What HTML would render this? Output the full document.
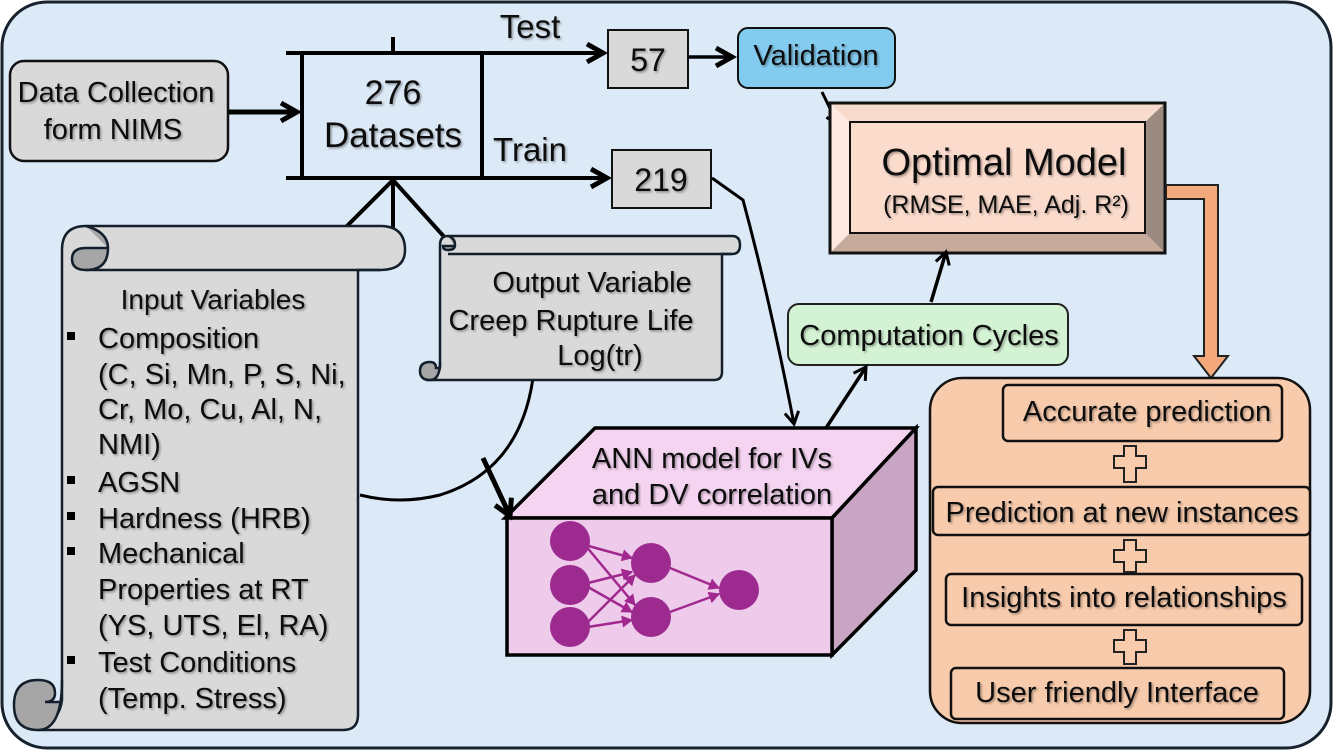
<!DOCTYPE html>
<html><head><meta charset="utf-8"><style>
html,body{margin:0;padding:0;background:#fff}
svg{display:block}
text{font-family:"Liberation Sans",Arial,sans-serif;fill:#111}
</style></head><body>
<svg width="1333" height="751" viewBox="0 0 1333 751" xmlns="http://www.w3.org/2000/svg">
<defs>
<marker id="ah" markerWidth="20" markerHeight="20" refX="15" refY="10" orient="auto" markerUnits="userSpaceOnUse"><path d="M3,3 L15,10 L3,17" fill="none" stroke="#000" stroke-width="3"/></marker>
<marker id="ahp" markerWidth="14" markerHeight="14" refX="11" refY="7" orient="auto" markerUnits="userSpaceOnUse"><path d="M1,1 L12,7 L1,13 Z" fill="#a0288e"/></marker>
<marker id="ahb" markerWidth="24" markerHeight="24" refX="19" refY="12" orient="auto" markerUnits="userSpaceOnUse"><path d="M3,3 L19,12 L3,21" fill="none" stroke="#000" stroke-width="5"/></marker>
<filter id="sh"><feDropShadow dx="1.5" dy="1.5" stdDeviation="1" flood-color="#000" flood-opacity="0.35"/></filter>
</defs>
<rect x="2" y="2" width="1329" height="746" rx="45" fill="#dce9f6" stroke="#16222e" stroke-width="3"/>

<!-- Data collection -->
<rect x="10" y="61" width="218" height="100" rx="14" fill="#d9d9d9" stroke="#111" stroke-width="2.5"/>
<g filter="url(#sh)" font-size="29" text-anchor="middle">
<text x="116" y="102">Data Collection</text>
<text x="113" y="139">form NIMS</text>
</g>
<line x1="229" y1="112" x2="297" y2="112" stroke="#000" stroke-width="5" marker-end="url(#ahb)"/>

<!-- Datasets -->
<g stroke="#000" stroke-width="4" fill="none">
<line x1="302" y1="53" x2="302" y2="178"/>
<line x1="482" y1="53" x2="482" y2="178"/>
<line x1="286" y1="53" x2="603" y2="53" marker-end="url(#ahb)"/>
<line x1="286" y1="178" x2="607" y2="178" marker-end="url(#ahb)"/>
<line x1="393" y1="37" x2="393" y2="53"/>
<line x1="393" y1="180" x2="345" y2="228"/>
<line x1="393" y1="180" x2="393" y2="228"/>
<line x1="393" y1="180" x2="447" y2="240"/>
</g>
<g filter="url(#sh)" text-anchor="middle">
<text x="393" y="104" font-size="34">276</text>
<text x="393" y="147" font-size="35">Datasets</text>
<text x="530" y="38" font-size="33">Test</text>
<text x="530" y="161" font-size="33">Train</text>
</g>

<!-- 57, 219 -->
<rect x="608" y="30" width="80" height="58" fill="#d9d9d9" stroke="#111" stroke-width="2"/>
<text x="648" y="71" font-size="32" text-anchor="middle" filter="url(#sh)">57</text>
<rect x="612" y="150" width="99" height="58" fill="#d9d9d9" stroke="#111" stroke-width="2"/>
<text x="661" y="191" font-size="32" text-anchor="middle" filter="url(#sh)">219</text>
<line x1="689" y1="57" x2="732" y2="57" stroke="#000" stroke-width="3.5" marker-end="url(#ahb)"/>

<!-- Validation -->
<rect x="738" y="28" width="157" height="60" rx="10" fill="#83cbef" stroke="#111" stroke-width="2"/>
<text x="816" y="65" font-size="29" text-anchor="middle" filter="url(#sh)">Validation</text>
<line x1="822" y1="92" x2="838" y2="125" stroke="#000" stroke-width="3" marker-end="url(#ah)"/>

<!-- Optimal model -->
<polygon points="830,103 1165,103 1165,253 830,253" fill="#fbdfcf" stroke="#111" stroke-width="3"/>
<polygon points="830,103 850,122 850,233 830,253" fill="#fde9df"/>
<polygon points="1165,103 1145,122 1145,233 1165,253" fill="#9a8a82"/>
<polygon points="830,253 850,233 1145,233 1165,253" fill="#c6aa9c"/>
<polygon points="830,103 850,122 1145,122 1165,103" fill="#f7dccd"/>
<rect x="850" y="122" width="295" height="111" fill="#fbdbcc" stroke="#111" stroke-width="2"/>
<polygon points="830,103 1165,103 1165,253 830,253" fill="none" stroke="#111" stroke-width="3"/>
<g filter="url(#sh)" text-anchor="middle">
<text x="1004" y="175" font-size="38">Optimal Model</text>
<text x="1006" y="213" font-size="25">(RMSE, MAE, Adj. R²)</text>
</g>

<!-- orange arrow -->
<polygon points="1166,185 1218,185 1218,356 1228,356 1211,378 1194,356 1204,356 1204,199 1166,199" fill="#f4a97c" stroke="#222" stroke-width="2"/>

<!-- right panel -->
<rect x="930" y="378" width="380" height="345" rx="32" fill="#f8cbad" stroke="#111" stroke-width="2.5"/>
<g fill="#f8cbad" stroke="#111" stroke-width="2.5">
<rect x="1003" y="385" width="279" height="56" rx="5"/>
<rect x="933" y="487" width="377" height="48" rx="5"/>
<rect x="946" y="574" width="356" height="51" rx="5"/>
<rect x="951" y="668" width="333" height="51" rx="5"/>
</g>
<g fill="#f8cbad" stroke="#222" stroke-width="2">
<path d="M1124,446 h12 v10 h10 v12 h-10 v14 h-12 v-14 h-10 v-12 h10z"/>
<path d="M1124,540 h12 v10 h10 v12 h-10 v10 h-12 v-10 h-10 v-12 h10z"/>
<path d="M1124,630 h12 v10 h10 v12 h-10 v12 h-12 v-12 h-10 v-12 h10z"/>
</g>
<g filter="url(#sh)" text-anchor="middle" font-size="29">
<text x="1147" y="421">Accurate prediction</text>
<text x="1122" y="522">Prediction at new instances</text>
<text x="1124" y="607">Insights into relationships</text>
<text x="1117" y="702">User friendly Interface</text>
</g>

<!-- Computation cycles -->
<rect x="788" y="304" width="280" height="61" rx="11" fill="#d4f3d4" stroke="#222" stroke-width="2"/>
<text x="929" y="345" font-size="29" text-anchor="middle" filter="url(#sh)">Computation Cycles</text>
<line x1="931" y1="302" x2="946" y2="252" stroke="#000" stroke-width="3.5" marker-end="url(#ah)"/>
<line x1="826" y1="428" x2="866" y2="367" stroke="#000" stroke-width="3.5" marker-end="url(#ah)"/>

<!-- 219 to ANN -->
<path d="M712,178 L743,200 Q770,300 794,424" fill="none" stroke="#000" stroke-width="3" marker-end="url(#ah)"/>

<!-- ANN box -->
<polygon points="505,518 595,428 916,428 832,518" fill="#f5d4f1" stroke="#000" stroke-width="3.5"/>
<polygon points="832,518 916,428 916,570 832,655" fill="#c8a5c3" stroke="#000" stroke-width="3.5"/>
<rect x="507" y="518" width="325" height="137" fill="#efcbeb" stroke="#000" stroke-width="3.5"/>
<g filter="url(#sh)" text-anchor="middle" font-size="29">
<text x="712" y="468">ANN model for IVs</text>
<text x="712" y="504">and DV correlation</text>
</g>
<g stroke="#a0288e" stroke-width="2.5" marker-end="url(#ahp)" fill="none">
<line x1="585" y1="545" x2="632" y2="558"/>
<line x1="585" y1="545" x2="635" y2="605"/>
<line x1="588" y1="583" x2="632" y2="572"/>
<line x1="588" y1="587" x2="632" y2="612"/>
<line x1="585" y1="625" x2="635" y2="575"/>
<line x1="588" y1="627" x2="632" y2="620"/>
<line x1="670" y1="568" x2="719" y2="588"/>
<line x1="670" y1="612" x2="719" y2="594"/>
</g>
<g fill="#9d2a8e">
<circle cx="570" cy="541" r="20"/>
<circle cx="570" cy="585" r="20"/>
<circle cx="570" cy="627" r="20"/>
<circle cx="651" cy="563" r="20"/>
<circle cx="651" cy="617" r="20"/>
<circle cx="739" cy="590" r="20"/>
</g>

<!-- curve from output scroll -->
<path d="M533,378 Q520,470 440,495 Q400,505 360,495" fill="none" stroke="#000" stroke-width="3"/>
<line x1="483" y1="458" x2="510" y2="516" stroke="#000" stroke-width="5" marker-end="url(#ahb)"/>

<!-- Input scroll -->
<g stroke="#13202c" stroke-width="2.5">
<path d="M62,250 Q62,226 86,226 L380,226 Q405,226 405,250 Q405,270 380,270 L358,270 L358,715 Q358,730 343,730 L38,730 Q60,720 62,700 Z" fill="#d9d9d9"/>
<path d="M86,226 Q108,232 108,248 Q108,270 86,270 Q72,270 72,259 Q72,248 86,248 L108,248" fill="#a6a6a6"/>
<path d="M62,680 Q62,730 38,730 Q14,730 14,705 Q14,680 38,680 Q55,680 55,693 Q55,702 45,702 L62,702" fill="#a6a6a6"/>
<line x1="86" y1="270" x2="380" y2="270" fill="none"/>
</g>
<g filter="url(#sh)" font-size="29">
<text x="213" y="309" text-anchor="middle" font-size="28">Input Variables</text>
<text x="98" y="348">Composition</text>
<text x="98" y="384">(C, Si, Mn, P, S, Ni,</text>
<text x="98" y="419">Cr, Mo, Cu, Al, N,</text>
<text x="98" y="454">NMI)</text>
<text x="98" y="492">AGSN</text>
<text x="98" y="528">Hardness (HRB)</text>
<text x="98" y="563">Mechanical</text>
<text x="98" y="599">Properties at RT</text>
<text x="98" y="635">(YS, UTS, El, RA)</text>
<text x="98" y="672">Test Conditions</text>
<text x="98" y="708">(Temp. Stress)</text>
</g>
<g fill="#000">
<rect x="67" y="332" width="8" height="8"/>
<rect x="67" y="476" width="8" height="8"/>
<rect x="67" y="512" width="8" height="8"/>
<rect x="67" y="547" width="8" height="8"/>
<rect x="67" y="656" width="8" height="8"/>
</g>

<!-- Output scroll -->
<g stroke="#13202c" stroke-width="2.5">
<path d="M440,245 Q440,236 448,236 L732,236 Q740,236 740,245 Q740,254 732,254 L722,254 L722,372 Q722,380 714,380 L430,380 Q438,375 440,368 Z" fill="#d9d9d9"/>
<path d="M448,236 Q455,238 455,245 Q455,250 448,250 Q443,250 443,246 L455,246" fill="#a6a6a6"/>
<path d="M440,362 Q440,380 430,380 Q420,380 420,371 Q420,362 430,362 Q436,362 436,368 L440,368" fill="#a6a6a6"/>
<line x1="448" y1="254" x2="732" y2="254"/>
</g>
<g filter="url(#sh)" font-size="29" text-anchor="middle">
<text x="592" y="292">Output Variable</text>
<text x="571" y="330">Creep Rupture Life</text>
<text x="600" y="365">Log(tr)</text>
</g>
</svg>
</body></html>
